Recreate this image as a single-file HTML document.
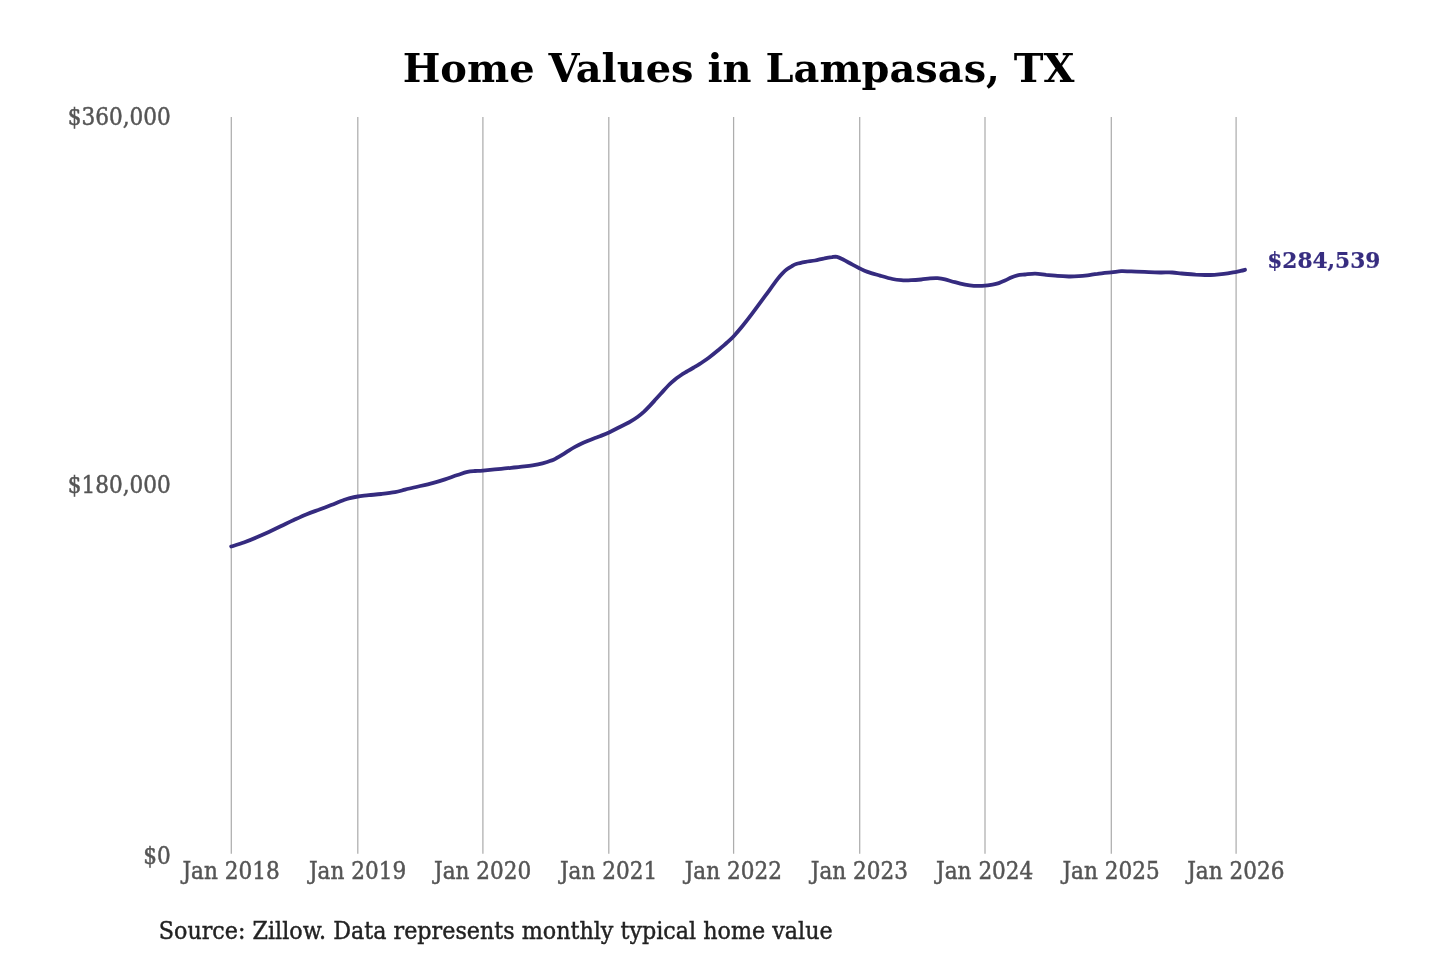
<!DOCTYPE html>
<html lang="en">
<head>
<meta charset="utf-8">
<title>Home Values in Lampasas, TX</title>
<style>
html,body{margin:0;padding:0;background:#fff;}
body{width:1440px;height:960px;overflow:hidden;}
svg{display:block;}
svg text{font-family:"DejaVu Serif","Liberation Serif",serif;}
.tick{font-size:21.6px;fill:#555;stroke:#555;stroke-width:0.45;}
.grid line{stroke:#adadad;stroke-width:1.25;}
.title{font-size:39.9px;font-weight:bold;fill:#000;}
.src{font-size:22.25px;fill:#222;stroke:#222;stroke-width:0.4;}
.val{font-size:21.7px;font-weight:bold;fill:#372d80;stroke:#372d80;stroke-width:0.2;}
.line{fill:none;stroke:#352b7f;stroke-width:3.8;stroke-linecap:round;stroke-linejoin:round;}
</style>
</head>
<body>
<svg width="1440" height="960" viewBox="0 0 1440 960">
<rect width="1440" height="960" fill="#fff"/>
<text class="title" x="738.6" y="81.5" text-anchor="middle">Home Values in Lampasas, TX</text>
<g class="grid">
<line x1="231.3" y1="117" x2="231.3" y2="853.8" />
<line x1="357.8" y1="117" x2="357.8" y2="853.8" />
<line x1="482.9" y1="117" x2="482.9" y2="853.8" />
<line x1="608.8" y1="117" x2="608.8" y2="853.8" />
<line x1="733.6" y1="117" x2="733.6" y2="853.8" />
<line x1="859.7" y1="117" x2="859.7" y2="853.8" />
<line x1="985.0" y1="117" x2="985.0" y2="853.8" />
<line x1="1111.3" y1="117" x2="1111.3" y2="853.8" />
<line x1="1236.1" y1="117" x2="1236.1" y2="853.8" />
</g>
<g class="tick">
<text transform="translate(170.8,124.6) scale(1,1.08)" text-anchor="end">$360,000</text>
<text transform="translate(170.8,492.8) scale(1,1.08)" text-anchor="end">$180,000</text>
<text transform="translate(170.8,864) scale(1,1.08)" text-anchor="end">$0</text>
<text transform="translate(231.0,879.4) scale(1,1.08)" text-anchor="middle">Jan 2018</text>
<text transform="translate(357.5,879.4) scale(1,1.08)" text-anchor="middle">Jan 2019</text>
<text transform="translate(482.59999999999997,879.4) scale(1,1.08)" text-anchor="middle">Jan 2020</text>
<text transform="translate(608.5,879.4) scale(1,1.08)" text-anchor="middle">Jan 2021</text>
<text transform="translate(733.3000000000001,879.4) scale(1,1.08)" text-anchor="middle">Jan 2022</text>
<text transform="translate(859.4000000000001,879.4) scale(1,1.08)" text-anchor="middle">Jan 2023</text>
<text transform="translate(984.7,879.4) scale(1,1.08)" text-anchor="middle">Jan 2024</text>
<text transform="translate(1111.0,879.4) scale(1,1.08)" text-anchor="middle">Jan 2025</text>
<text transform="translate(1235.8,879.4) scale(1,1.08)" text-anchor="middle">Jan 2026</text>
</g>
<path class="line" d="M231.2,546.5 C233.3,545.8 239.6,544.0 243.8,542.5 C247.9,541.0 252.1,539.3 256.2,537.5 C260.4,535.7 264.6,533.8 268.8,531.9 C272.9,530.0 277.1,528.0 281.2,526.0 C285.4,524.0 289.6,521.9 293.8,520.0 C297.9,518.1 302.1,516.1 306.2,514.4 C310.4,512.7 314.6,511.3 318.8,509.8 C322.9,508.2 327.1,506.6 331.2,505.0 C335.4,503.4 340.6,501.1 343.8,500.0 C346.9,498.9 347.7,498.7 350.0,498.1 C352.3,497.5 354.6,497.0 357.8,496.5 C360.9,496.0 364.8,495.7 368.8,495.2 C372.7,494.8 376.9,494.5 381.2,494.0 C385.6,493.5 391.0,492.9 395.0,492.2 C399.0,491.5 401.9,490.4 405.0,489.6 C408.1,488.8 409.2,488.6 413.8,487.5 C418.3,486.4 427.3,484.5 432.5,483.1 C437.7,481.8 440.8,480.8 445.0,479.4 C449.2,478.0 453.8,476.2 457.5,475.0 C461.2,473.8 464.6,472.6 467.5,471.9 C470.4,471.2 472.4,471.2 475.0,471.0 C477.6,470.8 478.5,471.0 482.9,470.6 C487.3,470.2 495.1,469.4 501.2,468.8 C507.4,468.1 514.8,467.5 520.0,466.9 C525.2,466.3 528.8,466.0 532.5,465.4 C536.2,464.8 539.4,464.2 542.5,463.4 C545.6,462.6 549.0,461.5 551.2,460.6 C553.5,459.8 554.4,459.3 556.2,458.3 C558.1,457.3 560.4,455.9 562.5,454.6 C564.6,453.3 566.7,451.9 568.8,450.6 C570.8,449.3 572.9,448.0 575.0,446.9 C577.1,445.8 579.2,444.7 581.2,443.8 C583.3,442.8 585.4,441.9 587.5,441.0 C589.6,440.1 591.7,439.3 593.8,438.5 C595.8,437.7 597.5,437.2 600.0,436.2 C602.5,435.2 605.9,434.0 609.0,432.5 C612.1,431.0 615.5,429.2 618.8,427.5 C622.0,425.8 625.6,424.2 628.8,422.5 C631.9,420.8 635.0,418.8 637.5,417.0 C640.0,415.2 641.7,413.8 643.8,411.9 C645.8,410.0 647.9,407.8 650.0,405.6 C652.1,403.4 654.2,401.0 656.2,398.8 C658.3,396.5 660.4,394.2 662.5,391.9 C664.6,389.6 666.7,387.1 668.8,385.0 C670.8,382.9 672.9,381.1 675.0,379.4 C677.1,377.7 679.2,376.4 681.2,375.0 C683.3,373.6 685.4,372.5 687.5,371.2 C689.6,370.0 691.8,368.7 693.8,367.5 C695.7,366.3 696.9,365.8 699.4,364.2 C701.9,362.6 705.6,360.0 708.8,357.7 C711.9,355.4 715.0,352.9 718.1,350.3 C721.2,347.7 724.9,344.6 727.5,342.2 C730.1,339.8 731.2,338.9 733.7,336.2 C736.2,333.5 739.4,329.8 742.5,326.0 C745.6,322.2 748.8,318.2 752.5,313.2 C756.2,308.2 760.8,301.9 765.0,296.2 C769.2,290.5 774.6,283.0 777.5,279.2 C780.4,275.4 780.6,275.2 782.2,273.6 C783.8,272.0 785.3,270.5 786.9,269.3 C788.5,268.1 790.0,267.2 791.6,266.3 C793.2,265.4 793.9,264.7 796.2,264.0 C798.6,263.3 802.5,262.5 805.6,261.9 C808.7,261.3 811.9,261.1 815.0,260.5 C818.1,259.9 821.6,258.9 824.4,258.4 C827.2,257.8 829.8,257.4 831.9,257.2 C834.0,256.9 835.1,256.5 837.0,256.9 C838.9,257.3 840.5,258.2 843.1,259.5 C845.7,260.8 849.7,263.2 852.5,264.7 C855.3,266.2 857.2,267.2 859.8,268.4 C862.2,269.6 864.1,270.7 867.5,271.9 C870.9,273.1 875.8,274.4 880.0,275.6 C884.2,276.8 889.0,278.2 892.5,279.0 C896.0,279.8 898.1,280.0 901.2,280.2 C904.4,280.5 907.9,280.4 911.2,280.2 C914.6,280.1 918.1,279.8 921.2,279.5 C924.4,279.2 927.3,278.6 930.0,278.4 C932.7,278.2 935.0,278.1 937.5,278.2 C940.0,278.4 942.1,278.7 945.0,279.4 C947.9,280.1 951.7,281.4 955.0,282.2 C958.3,283.1 961.9,284.0 965.0,284.6 C968.1,285.2 970.4,285.6 973.8,285.8 C977.1,285.9 981.9,285.9 985.0,285.7 C988.1,285.5 990.2,285.0 992.5,284.6 C994.8,284.2 996.7,283.8 998.8,283.1 C1000.8,282.4 1002.9,281.5 1005.0,280.6 C1007.1,279.7 1009.2,278.4 1011.2,277.5 C1013.3,276.6 1015.2,275.9 1017.5,275.4 C1019.8,274.9 1022.1,274.8 1025.0,274.5 C1027.9,274.2 1031.5,273.6 1035.0,273.6 C1038.5,273.6 1042.5,274.4 1046.2,274.8 C1050.0,275.1 1053.8,275.6 1057.5,275.9 C1061.2,276.2 1065.2,276.4 1068.8,276.5 C1072.3,276.6 1075.6,276.4 1078.8,276.2 C1081.9,276.1 1084.4,275.8 1087.5,275.4 C1090.6,275.0 1093.5,274.3 1097.5,273.8 C1101.5,273.2 1107.3,272.7 1111.2,272.3 C1115.2,271.9 1117.9,271.4 1121.2,271.2 C1124.6,271.1 1126.7,271.3 1131.2,271.4 C1135.8,271.5 1144.0,271.9 1148.8,272.1 C1153.5,272.3 1156.1,272.4 1160.0,272.5 C1163.9,272.6 1168.6,272.3 1172.2,272.5 C1175.8,272.7 1177.7,273.1 1181.6,273.5 C1185.5,273.9 1191.7,274.4 1195.6,274.7 C1199.5,274.9 1201.9,275.0 1205.0,275.0 C1208.1,275.0 1211.3,275.0 1214.4,274.8 C1217.5,274.6 1220.6,274.3 1223.8,273.9 C1226.9,273.5 1230.3,272.9 1233.1,272.4 C1235.9,271.9 1238.6,271.3 1240.6,270.9 C1242.6,270.5 1244.3,270.0 1245.0,269.8"/>
<text class="val" transform="translate(1267.2,268.1) scale(1,1.05)" text-anchor="start">$284,539</text>
<text class="src" transform="translate(158.8,939.3) scale(1,1.08)" text-anchor="start">Source: Zillow. Data represents monthly typical home value</text>
</svg>
</body>
</html>
